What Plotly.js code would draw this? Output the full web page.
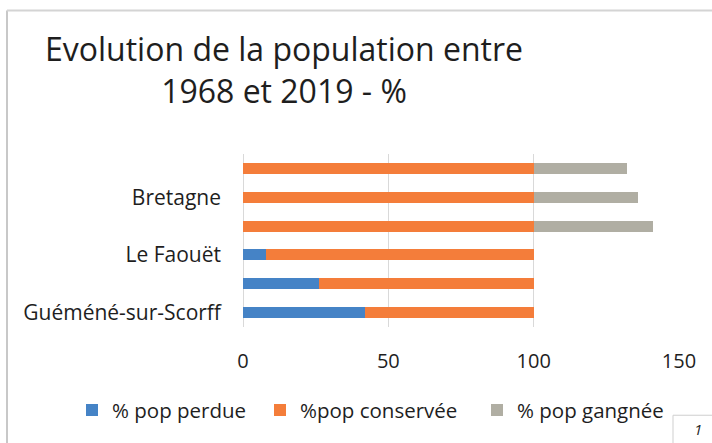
<!DOCTYPE html>
<html>
<head>
<meta charset="utf-8">
<script src="https://cdn.plot.ly/plotly-3.0.1.min.js"></script>
<style>html,body{margin:0;padding:0;background:#fff;}#chart{width:712px;height:443px;}</style>
</head>
<body>
<div id="chart"></div>
<script>
// Categories from bottom to top (only every other label is displayed, as in the original)
const categories = ["Guéméné-sur-Scorff", "", "Le Faouët", "", "Bretagne", ""];
const popPerdue    = [42, 26, 8, 0, 0, 0];
const popConservee = [58, 74, 92, 100, 100, 100];
const popGagnee    = [0, 0, 0, 41, 36, 32];
const seriesNames  = ["% pop perdue", "%pop conservée", "% pop gangnée"];
const xTicks = [0, 50, 100, 150];

const FONT = "Open Sans, Liberation Sans, sans-serif";
const yPos = categories.map((c, i) => i);
const shownIdx = yPos.filter(i => categories[i] !== "");

const L = 243, R = 679, T = 154, B = 327.5, W = 712, H = 443;
const px = v => (v - L) / (R - L);
const py = v => (B - v) / (B - T);

const colors = ["#4583c6", "#f47d3a", "#b0aea3"];
const values = [popPerdue, popConservee, popGagnee];
const legendWidths = [143, 172, 150];
const data = values.map((vals, k) => ({
  type: "bar", orientation: "h",
  y: yPos, x: vals, name: seriesNames[k],
  marker: {color: colors[k]},
  legendwidth: legendWidths[k],
  hoverinfo: "skip"
}));

const layout = {
  width: W, height: H,
  margin: {l: L, r: W - R, t: T, b: H - B},
  paper_bgcolor: "#ffffff", plot_bgcolor: "#ffffff",
  barmode: "stack", bargap: 0.62,
  font: {family: FONT, color: "#1e1e1e", size: 21},
  title: {
    text: "Evolution de la population entre<br>1968 et 2019 - %",
    font: {family: FONT, size: 32, color: "#1e1e1e"},
    x: 284 / W, xref: "container", xanchor: "center",
    y: 1 - 61 / H, yref: "container", yanchor: "top"
  },
  xaxis: {
    range: [0, 150], tickvals: xTicks, ticktext: xTicks.map(String),
    showgrid: true, gridcolor: "#d9d9d9", gridwidth: 1,
    zeroline: true, zerolinecolor: "#d9d9d9", zerolinewidth: 1,
    showline: false, ticks: "", ticklabelstandoff: 20,
    tickfont: {size: 20}, fixedrange: true
  },
  yaxis: {
    range: [-0.5, 5.5], tickvals: shownIdx, ticktext: shownIdx.map(i => categories[i]),
    showgrid: false, zeroline: false, showline: false, ticks: "",
    ticklabelstandoff: 21, tickfont: {size: 21}, fixedrange: true
  },
  legend: {
    orientation: "h", x: px(72), xanchor: "left",
    y: py(411), yanchor: "middle", yref: "paper",
    font: {size: 20.5}, traceorder: "normal", itemclick: false
  },
  showlegend: true,
  shapes: [
    {type: "line", xref: "paper", yref: "paper", x0: px(7), x1: px(7), y0: py(10), y1: py(H + 5), line: {color: "#c8c8c8", width: 2}},
    {type: "line", xref: "paper", yref: "paper", x0: px(7), x1: px(W + 5), y0: py(10), y1: py(10), line: {color: "#d4d4d4", width: 2}},
    {type: "rect", xref: "paper", yref: "paper", x0: px(673), x1: px(W + 5), y0: py(416), y1: py(H + 5), line: {color: "#cfcfcf", width: 1}, fillcolor: "#ffffff"}
  ],
  annotations: [
    {text: "<i>1</i>", xref: "paper", yref: "paper", x: px(698), y: py(430), showarrow: false, xanchor: "center", yanchor: "middle", font: {size: 15, color: "#262626"}}
  ]
};

Plotly.newPlot("chart", data, layout, {staticPlot: true, displayModeBar: false});
</script>
</body>
</html>
